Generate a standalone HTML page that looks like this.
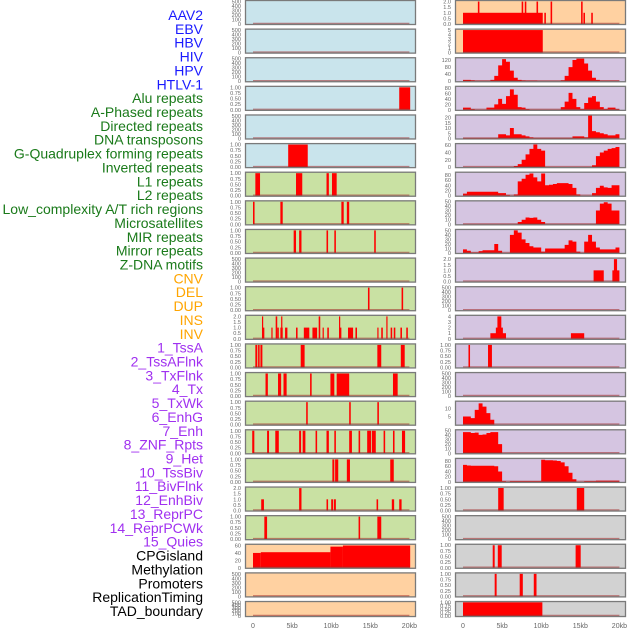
<!DOCTYPE html>
<html><head><meta charset="utf-8">
<style>
html,body{margin:0;padding:0;background:#fff;}
svg{display:block;}
text{font-family:"Liberation Sans",sans-serif;}
</style></head>
<body>
<svg id="chart" width="630" height="630" viewBox="0 0 630 630" xmlns="http://www.w3.org/2000/svg"></svg>
<script>
// ---------- data ----------
const trackLabels = ["AAV2","EBV","HBV","HIV","HPV","HTLV-1","Alu repeats","A-Phased repeats","Directed repeats","DNA transposons","G-Quadruplex forming repeats","Inverted repeats","L1 repeats","L2 repeats","Low_complexity A/T rich regions","Microsatellites","MIR repeats","Mirror repeats","Z-DNA motifs","CNV","DEL","DUP","INS","INV","1_TssA","2_TssAFlnk","3_TxFlnk","4_Tx","5_TxWk","6_EnhG","7_Enh","8_ZNF_Rpts","9_Het","10_TssBiv","11_BivFlnk","12_EnhBiv","13_ReprPC","14_ReprPCWk","15_Quies","CPGisland","Methylation","Promoters","ReplicationTiming","TAD_boundary"];
const xTickValues = [0,5,10,15,20];
const xTickLabels = ["0","5kb","10kb","15kb","20kb"];
const ticks500 = [0,100,200,300,400,500];
const ticks1 = [0,0.25,0.5,0.75,1];
const ticks2 = [0,0.5,1,1.5,2];
// bar tracks: [startKb, endKb, value]
const ebvBars = [[0,10.2,1],[1.9,2.1,2],[7.5,7.7,2],[7.9,8.1,2],[9.4,9.6,2],[11.2,11.4,2],[15.1,15.3,2],[10.4,10.6,1],[15.4,15.6,1],[16.4,16.6,1]];
const hivBars = [[0,10.2,5]];
const aluBars = [[18.7,20.1,1]];
const gquadBars = [[4.5,7.0,1]];
const l1Bars = [[0.3,0.9,1],[5.5,6.3,1],[9.4,9.7,1],[10.1,10.7,1]];
const lowcBars = [[0,0.2,1],[3.5,3.8,1],[11.3,11.6,1],[12.0,12.3,1]];
const mirBars = [[5.2,5.5,1],[5.9,6.2,1],[9.4,9.6,1],[10.4,10.6,1],[15.5,15.7,1]];
const cnvBars = [[16.7,18.0,1],[19.1,20,1],[19.3,19.7,2]];
const delBars = [[14.7,14.9,1],[19.0,19.2,1]];
const insBars = [[1.15,1.45,1],[1.15,1.3,2],[2.35,2.5,1],[2.9,3.1,2],[3.1,3.3,1],[3.5,3.8,1],[3.6,3.75,2],[4.1,4.4,1],[5.5,5.7,1],[6.5,7.2,1],[7.6,8.2,1],[8.4,8.6,2],[8.9,9.05,1],[9.5,9.7,1],[11.0,11.3,1],[11.0,11.15,2],[12.15,12.8,1],[13.1,13.3,1],[15.9,16.05,1],[16.4,16.6,1],[17.05,17.2,2],[17.6,17.8,1],[18.0,18.2,1],[18.85,19.05,1],[19.6,19.8,1]];
const invBars = [[3.5,5.5,1],[4.2,5.1,2],[4.4,4.9,4],[13.8,15.5,1]];
const tssaBars = [[0.3,0.55,1],[0.65,0.85,1],[0.95,1.2,1],[6.1,6.6,1],[15.9,16.4,1],[18.9,19.4,1]];
const tssaflnkBars = [[0.7,0.9,1],[3.2,3.7,1]];
const txflnkBars = [[1.6,1.9,1],[3.2,3.6,1],[3.9,4.3,1],[7.3,7.5,1],[9.9,10.4,1],[10.7,12.3,1],[17.9,18.5,1]];
const txwkBars = [[6.8,7.0,1],[12.3,12.5,1],[15.9,16.1,1]];
const enhBars = [[-0.1,0.17,1],[1.8,2.05,1],[2.85,3.3,1],[5.9,6.15,1],[6.35,6.7,1],[8.0,8.2,1],[9.4,9.7,1],[10.4,10.6,1],[12.3,12.65,1],[13.5,13.7,1],[14.6,15.1,1],[15.2,15.7,1],[16.7,16.9,1],[17.9,18.1,1],[19.05,19.45,1]];
const hetBars = [[10.15,10.4,1],[10.5,10.9,1],[12.0,12.4,1],[17.55,18.0,1]];
const bivflnkBars = [[1.05,1.4,1],[5.9,6.2,2],[9.4,9.6,1],[10.0,10.25,1],[10.35,10.6,1],[15.8,16.0,1],[17.75,18.05,1],[18.7,19.0,1]];
const enhbivBars = [[4.5,5.2,1],[14.55,15.5,1]];
const reprpcBars = [[1.45,1.8,1],[13.5,13.7,1],[15.9,16.4,1]];
const quiesBars = [[0,1.0,40],[1.0,9.9,42],[9.9,11.5,57],[11.5,20.1,60]];
const cpgBars = [[3.8,4.05,1],[4.45,4.95,1],[14.4,15.05,1]];
const promBars = [[4.05,4.3,1],[7.25,7.65,1],[9.05,9.4,1]];
const tadBars = [[0,10.15,1]];
// profile tracks: values in 0.5kb bins starting at 0kb
const htlvProfile = [8,8,5,2,2,2,2,8,30,90,125,110,60,20,8,4,3,3,3,1,1,1,1,1,1,5,30,80,120,128,128,100,60,20,8,3,3,3,3,3];
const aphasedProfile = [8,8,3,1,1,1,8,8,20,40,22,50,75,55,10,8,3,1,1,1,1,1,1,1,1,10,30,62,40,10,3,25,45,50,30,10,3,8,8,3];
const dnatProfile = [0.5,0.5,0.5,0.5,0.5,0.5,0.5,0.5,0.5,4,4,3,10,4,4,3,2,1,0.5,0.5,0.5,0.5,0.5,0.5,0.5,0.5,0.5,0.5,2,2,2,1,22,7,6,5,4,3,3,4];
const invertedProfile = [0,0,0,0,0,0,0,0,0,0,0,0,0,3,8,20,35,50,62,50,45,0,0,0,0,0,0,0,0,0,0,0,0,5,30,40,45,50,52,55];
const l2Profile = [8,15,15,15,15,15,15,15,15,10,10,3,0,5,55,65,80,85,70,55,85,40,42,45,48,48,48,45,30,5,0,0,0,10,30,38,32,30,40,40];
const microProfile = [0.5,0.5,0.5,0.5,0.5,0.5,0.5,0.5,0.5,0.5,0.5,0.5,0.5,0.5,5,10,15,14,15,10,5,0.5,0.5,0.5,0.5,0.5,0.5,0.5,0.5,0.5,0.5,0.5,0.5,0.5,30,45,48,45,30,30];
const mirrorProfile = [8,5,1,1,4,6,6,6,20,5,0,0,40,50,45,30,22,15,12,12,3,10,10,10,10,10,18,28,25,3,0,25,40,25,12,8,8,8,8,12];
const enhgProfile = [5,5,4,9,13,11,7,3,0,0,0,0,0,0,0,0,0,0,0,0,0,0,0,0,0,0,0,0,0,0,0,0,0,0,0,0,0,0,0,0];
const znfProfile = [46,46,44,45,40,41,44,46,46,20,0,0,0,0,0,0,0,0,0,0,0,0,0,0,0,0,0,0,0,0,0,0,0,0,0,0,0,0,0,0];
const tssbivProfile = [65,63,62,62,62,62,62,62,60,40,3,0,3,3,3,3,3,3,3,3,85,83,83,82,80,75,60,35,10,0,0,3,3,3,5,5,5,5,5,5];

const C_BLUE="#c9e4ec", C_GREEN="#c9e1a3", C_ORANGE="#ffd1a1", C_PURPLE="#d5c5e1", C_GRAY="#d2d2d2";
// panel order: row-major, left then right
const panels = [
 {bg:C_BLUE, ticks:ticks500, ymax:510},
 {bg:C_ORANGE, ticks:ticks2, ymax:2.05, bars:ebvBars},
 {bg:C_BLUE, ticks:ticks500, ymax:510},
 {bg:C_ORANGE, ticks:[0,1,2,3,4,5], ymax:5.1, bars:hivBars},
 {bg:C_BLUE, ticks:ticks500, ymax:510},
 {bg:C_PURPLE, ticks:[0,40,80,120], ymax:130, prof:htlvProfile},
 {bg:C_BLUE, ticks:ticks1, ymax:1.02, bars:aluBars},
 {bg:C_PURPLE, ticks:[0,20,40,60,80], ymax:84, prof:aphasedProfile},
 {bg:C_BLUE, ticks:ticks500, ymax:510},
 {bg:C_PURPLE, ticks:[0,5,10,15,20], ymax:22, prof:dnatProfile},
 {bg:C_BLUE, ticks:ticks1, ymax:1.02, bars:gquadBars},
 {bg:C_PURPLE, ticks:[0,20,40,60], ymax:63, prof:invertedProfile},
 {bg:C_GREEN, ticks:ticks1, ymax:1.02, bars:l1Bars},
 {bg:C_PURPLE, ticks:[0,20,40,60,80], ymax:88, prof:l2Profile},
 {bg:C_GREEN, ticks:ticks1, ymax:1.02, bars:lowcBars},
 {bg:C_PURPLE, ticks:[0,10,20,30,40,50], ymax:50, prof:microProfile},
 {bg:C_GREEN, ticks:ticks1, ymax:1.02, bars:mirBars},
 {bg:C_PURPLE, ticks:[0,10,20,30,40,50], ymax:51, prof:mirrorProfile},
 {bg:C_GREEN, ticks:ticks500, ymax:510},
 {bg:C_PURPLE, ticks:ticks2, ymax:2.05, bars:cnvBars},
 {bg:C_GREEN, ticks:ticks1, ymax:1.02, bars:delBars},
 {bg:C_PURPLE, ticks:ticks500, ymax:510},
 {bg:C_GREEN, ticks:ticks2, ymax:2.05, bars:insBars},
 {bg:C_PURPLE, ticks:[0,1,2,3,4], ymax:4.1, bars:invBars},
 {bg:C_GREEN, ticks:ticks1, ymax:1.02, bars:tssaBars},
 {bg:C_PURPLE, ticks:ticks1, ymax:1.02, bars:tssaflnkBars},
 {bg:C_GREEN, ticks:ticks1, ymax:1.02, bars:txflnkBars},
 {bg:C_PURPLE, ticks:ticks500, ymax:510},
 {bg:C_GREEN, ticks:ticks1, ymax:1.02, bars:txwkBars},
 {bg:C_PURPLE, ticks:[5,10], ymax:14, prof:enhgProfile},
 {bg:C_GREEN, ticks:ticks1, ymax:1.02, bars:enhBars},
 {bg:C_PURPLE, ticks:[0,10,20,30,40,50], ymax:50, prof:znfProfile},
 {bg:C_GREEN, ticks:ticks1, ymax:1.02, bars:hetBars},
 {bg:C_PURPLE, ticks:[0,20,40,60,80], ymax:88, prof:tssbivProfile},
 {bg:C_GREEN, ticks:ticks2, ymax:2.05, bars:bivflnkBars},
 {bg:C_GRAY, ticks:ticks1, ymax:1.02, bars:enhbivBars},
 {bg:C_GREEN, ticks:ticks1, ymax:1.02, bars:reprpcBars},
 {bg:C_GRAY, ticks:ticks500, ymax:510},
 {bg:C_ORANGE, ticks:[0,20,40,60], ymax:62, bars:quiesBars},
 {bg:C_GRAY, ticks:ticks1, ymax:1.02, bars:cpgBars},
 {bg:C_ORANGE, ticks:ticks500, ymax:510},
 {bg:C_GRAY, ticks:ticks1, ymax:1.02, bars:promBars},
 {bg:C_ORANGE, ticks:ticks500, ymax:510},
 {bg:C_GRAY, ticks:ticks1, ymax:1.02, bars:tadBars}
];

// ---------- drawing ----------
const NS="http://www.w3.org/2000/svg";
const svg=document.getElementById('chart');
function mk(tag,attrs,parent){const e=document.createElementNS(NS,tag);for(const k in attrs)e.setAttribute(k,attrs[k]);(parent||svg).appendChild(e);return e;}
const colX=[245,455], PW=171;
const x0Off=8, pxPerKb=7.82;
function xScale(col,kb){return colX[col]+x0Off+kb*pxPerKb;}
function rowTop(r){return r*28.62;}
function rowH(r){return r===21?16:25;}
function labelColor(i){if(i<6)return"#1a1aff";if(i<19)return"#1a7a1a";if(i<24)return"#ffa500";if(i<39)return"#a030f0";return"#000";}
function fmtTick(v,ticks){if(ticks===ticks1)return v.toFixed(2);if(ticks===ticks2)return v.toFixed(1);return String(v);}

trackLabels.forEach((t,i)=>{
  const el=mk('text',{x:203,y:15+i*13.86+5,'text-anchor':'end','font-size':14,fill:labelColor(i)});
  el.textContent=t;
  
  
});

panels.forEach((p,i)=>{
  const row=Math.floor(i/2), col=i%2;
  const top=rowTop(row), h=rowH(row), bot=top+h;
  const g=mk('g',{});
  
  
  mk('rect',{x:colX[col],y:top,width:PW,height:h,fill:p.bg},g);
  const yS=v=>bot-1-(v/p.ymax)*(h-2);
  // data marks
  if(p.bars){p.bars.forEach(b=>{
    const xa=xScale(col,b[0]), xb=xScale(col,b[1]);
    const r=mk('rect',{x:xa,y:yS(b[2]),width:Math.max(1.2,xb-xa),height:bot-1-yS(b[2]),fill:'#ff0000'},g);
    
    
  });}
  if(p.prof){
    let d='M'+xScale(col,0)+','+(bot-1);
    p.prof.forEach((v,k)=>{const xa=xScale(col,k*0.5), xb=xScale(col,(k+1)*0.5);d+=' L'+xa+','+yS(v)+' L'+xb+','+yS(v);});
    d+=' L'+xScale(col,20)+','+(bot-1)+' Z';
    const pa=mk('path',{d:d,fill:'#ff0000'},g);
    
    
  }
  // baseline
  mk('line',{x1:xScale(col,0),x2:xScale(col,20),y1:bot-1.5,y2:bot-1.5,stroke:'rgba(160,40,40,0.55)','stroke-width':1.5},g);
  mk('rect',{x:colX[col]+0.5,y:top+0.5,width:PW-1,height:h-1,fill:'none',stroke:'#7a7a7a','stroke-width':1.3},g);
  // y ticks
  p.ticks.forEach(v=>{
    const tx=mk('text',{x:colX[col]-4,y:yS(v)+2,'text-anchor':'end','font-size':5.6,fill:'#666'},g);
    tx.textContent=fmtTick(v,p.ticks);
    
    
  });
});

[0,1].forEach(col=>{
  xTickValues.forEach((v,k)=>{
    const tx=mk('text',{x:xScale(col,v),y:628,'text-anchor':'middle','font-size':7,fill:'#666'});
    tx.textContent=xTickLabels[k];
    
    
  });
});
</script>
</body></html>
